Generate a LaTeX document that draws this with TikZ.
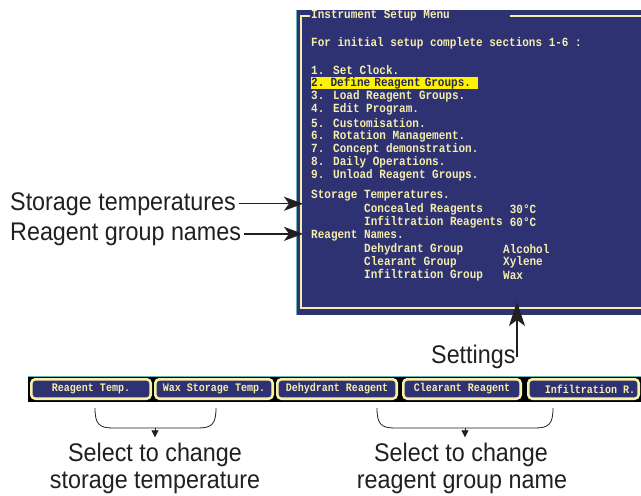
\documentclass[tikz,border=0pt]{standalone}
\usepackage{fontspec}
\usetikzlibrary{arrows.meta}
\newfontfamily\lblfont{Liberation Sans}[FakeStretch=0.915]
\newfontfamily\scrfont{Liberation Mono}[FakeStretch=0.88]
\newfontfamily\btnfont{Liberation Mono}[FakeStretch=0.87]
\definecolor{navy}{RGB}{46,49,114}
\definecolor{scrtext}{RGB}{244,238,172}
\definecolor{hlyellow}{RGB}{255,242,0}
\definecolor{hltext}{RGB}{40,40,80}
\definecolor{btnborder}{RGB}{249,241,165}
\definecolor{lbltext}{RGB}{35,31,32}
\definecolor{tealline}{RGB}{110,175,190}
\begin{document}
\begin{tikzpicture}[x=1pt,y=-1pt,
  scr/.style={font={\scrfont\bfseries\fontsize{12.5}{13}\selectfont}, text=scrtext, anchor=west, inner sep=0pt},
  hl/.style={scr, fill=hlyellow, text=hltext, text width=167pt, align=left, minimum height=12pt},
  btn/.style={draw=btnborder, line width=2.6pt, rounded corners=4pt, fill=navy, inner sep=0pt,
              minimum height=19.4pt, text=scrtext, font={\btnfont\bfseries\fontsize{11.5}{12}\selectfont}},
  btntext/.style={text=scrtext, inner sep=0pt, font={\btnfont\bfseries\fontsize{11.5}{12}\selectfont}},
  lbl/.style={font={\lblfont\fontsize{25.5}{28}\selectfont}, text=lbltext, inner sep=0pt},
  frameline/.style={draw=scrtext, line width=1.1pt},
  bigarr/.style={draw=lbltext, line width=1.4pt, -{Stealth[length=19pt, width=14pt, inset=5pt]}},
  setarr/.style={draw=lbltext, line width=1.4pt, -{Stealth[length=24pt, width=16pt, inset=6pt]}},
  bracestyle/.style={draw=lbltext, line width=0.8pt},
  smallarr/.style={draw=lbltext, line width=0.8pt, -{Triangle[length=7pt, width=7pt]}}
]
\useasboundingbox (0,0) rectangle (641,496);
\clip (0,0) rectangle (641,496);

% ---------- screen ----------
\fill[navy] (296,10) rectangle (645,315);
\draw[tealline, line width=1.2pt] (296.8,10) -- (296.8,315);
\draw[frameline] (310,16) -- (301,16) -- (301,308) -- (645,308);
\draw[frameline] (510,16) -- (645,16);

\node[scr] (title) at (311,16) {Instrument Setup Menu};
\node[scr] (intro) at (311,43) {For initial setup complete sections 1-6 :};
\node[scr] (m1) at (311,70) {1. Set Clock.};
\node[hl]  (m2) at (311,83.2) {2. Define Reagent Groups.};
\node[scr] (m3) at (311,96.4) {3. Load Reagent Groups.};
\node[scr] (m4) at (311,109.6) {4. Edit Program.};
\node[scr] (m5) at (311,122.8) {5. Customisation.};
\node[scr] (m6) at (311,136) {6. Rotation Management.};
\node[scr] (m7) at (311,149.2) {7. Concept demonstration.};
\node[scr] (m8) at (311,162.4) {8. Daily Operations.};
\node[scr] (m9) at (311,175.6) {9. Unload Reagent Groups.};

\node[scr] (sth) at (311,196) {Storage Temperatures.};
\node[scr] (conc) at (364,209.2) {Concealed Reagents};
\node[scr] (concv) at (509.6,209.2) {30°C};
\node[scr] (infr) at (364,222.4) {Infiltration Reagents};
\node[scr] (infrv) at (509.6,222.4) {60°C};
\node[scr] (rnh) at (311,235.6) {Reagent Names.};
\node[scr] (deh) at (364,248.8) {Dehydrant Group};
\node[scr] (dehv) at (503,248.8) {Alcohol};
\node[scr] (clr) at (364,262) {Clearant Group};
\node[scr] (clrv) at (503,262) {Xylene};
\node[scr] (ing) at (364,275.2) {Infiltration Group};
\node[scr] (ingv) at (503,275.2) {Wax};

% ---------- button bar ----------
\fill[black] (28,376) rectangle (645,402);
\draw[tealline, line width=0.9pt] (28,376.4) -- (645,376.4);
\node[btn, minimum width=119.4pt] (b1) at (91,389) {Reagent Temp.};
\node[btn, minimum width=117.4pt] (b2) at (214,389) {Wax Storage Temp.};
\node[btn, minimum width=119.4pt] (b3) at (337,389) {Dehydrant Reagent};
\node[btn, minimum width=117.4pt] (b4) at (462,389) {Clearant Reagent};
\node[btn, minimum width=110.4pt] (b5) at (583.5,389) {};
\node[btntext] (b5t) at (590,389) {Infiltration R.};

% ---------- left labels ----------
\node[lbl, anchor=base west] (st) at (10,210) {Storage temperatures};
\node[lbl, anchor=base west] (rg) at (10,240) {Reagent group names};
\coordinate (stTip) at (303,204);
\coordinate (rgTip) at (303,235);
\draw[bigarr, shorten <=3pt] (st.east) -- (st.east -| stTip);
\draw[bigarr, shorten <=3pt] (rg.east) -- (rg.east -| rgTip);

% ---------- settings ----------
\node[lbl, anchor=base west] (set) at (431,363) {Settings};
\coordinate (setTail) at (517,357);
\coordinate (setTip) at (517,302);
\draw[setarr] (setTail) -- (setTip);

% ---------- braces ----------
\draw[bracestyle] (95,408) .. controls (95,424) and (99,428) .. (113,428) -- (198,428)
   .. controls (212,428) and (216,424) .. (216,408);
\coordinate (br1) at (155,428);
\draw[bracestyle] (377,408) .. controls (377,424) and (381,428) .. (395,428) -- (535,428)
   .. controls (549,428) and (553,424) .. (553,408);
\coordinate (br2) at (465,428);

\node[lbl, anchor=base] (sel1a) at (155,461) {Select to change};
\node[lbl, anchor=base] (sel1b) at (155,488) {storage temperature};
\node[lbl, anchor=base] (sel2a) at (461,461) {Select to change};
\node[lbl, anchor=base] (sel2b) at (462,488) {reagent group name};

\draw[smallarr, shorten >=5pt] (br1) -- (br1 |- sel1a.north);
\draw[smallarr, shorten >=5pt] (br2) -- (br2 |- sel2a.north);
\end{tikzpicture}
\end{document}
